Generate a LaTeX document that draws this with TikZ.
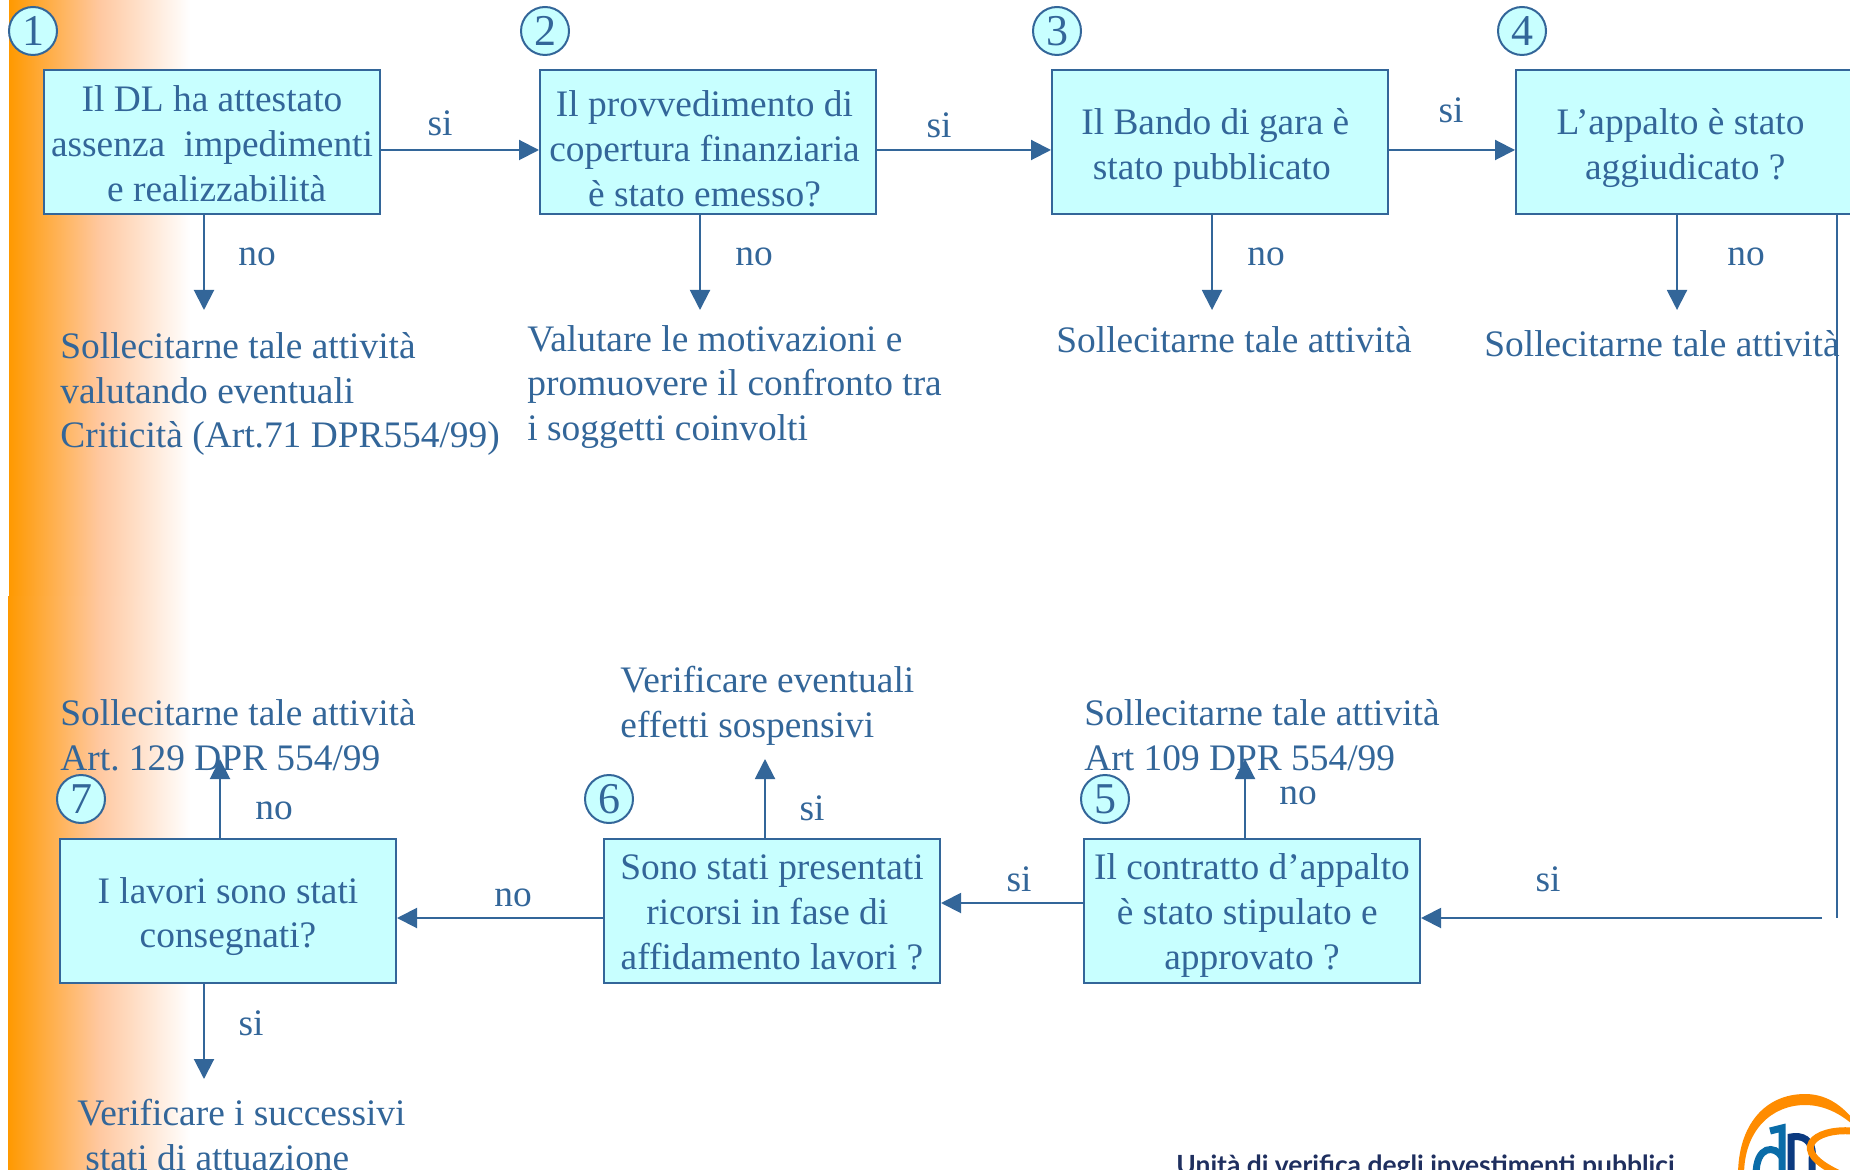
\documentclass[tikz,border=0pt]{standalone}
\usepackage{fontspec}
\setmainfont{Liberation Serif}
\newfontfamily\logofont{Lato}
\usetikzlibrary{arrows.meta}
\frenchspacing
\definecolor{inkblue}{HTML}{336699}
\definecolor{boxcyan}{HTML}{C8FFFF}
\definecolor{panelorange}{HTML}{FF9900}
\definecolor{panelpeach}{HTML}{FFC8A0}
\definecolor{logoorange}{HTML}{FF8C00}
\definecolor{logolight}{HTML}{0A6CA8}
\definecolor{logonavy}{HTML}{0B3A80}
\definecolor{footernavy}{HTML}{1F2F5F}
\newcommand{\topgap}[1]{\rule{0pt}{\dimexpr 12.7pt+#1\relax}}
\newcommand{\rightpad}[1]{\hspace*{#1}\mbox{}}
\tikzset{
    questionbox/.style={draw=inkblue,fill=boxcyan,line width=1pt,minimum width=168pt,minimum height=72pt,inner sep=0pt,align=center,text=inkblue},
    numbermark/.style={draw=inkblue,fill=boxcyan,line width=1pt,circle,minimum size=24pt,inner sep=0pt,text=inkblue,font=\fontsize{22}{24}\selectfont},
    actiontext/.style={anchor=west,align=left,inner sep=0pt,text=inkblue},
    answer/.style={inner sep=0pt,text=inkblue},
    flow/.style={draw=inkblue,line width=1pt}
}
\begin{document}
\begin{tikzpicture}[>={Triangle[length=10pt,width=10pt]},x=0.5pt,y=-0.5pt,font=\fontsize{18.7}{22.4}\selectfont]
                        \clip[use as bounding box] (0,0) rectangle (1850,1170);
                        \shade[left color=panelorange,right color=white,middle color=panelpeach] (9,0) rectangle (190,596);
                        \shade[left color=panelorange,right color=white,middle color=panelpeach] (8,596) rectangle (190,1170);
                        % upper row
                        \node[questionbox] (box1) at (212,142) {\topgap{1.8pt}Il DL ha attestato\\assenza\ \ impedimenti\\\hspace*{4.7pt}e realizzabilità};
                        \node[questionbox] (box2) at (708,142) {\topgap{7pt}Il provvedimento di\rightpad{3.5pt}\\copertura finanziaria\rightpad{3.5pt}\\è stato emesso?\rightpad{3.5pt}};
                        \node[questionbox] (box3) at (1220,142) {\topgap{6pt}Il Bando di gara è\rightpad{4.7pt}\\stato pubblicato\rightpad{8.2pt}};
                        \node[questionbox] (box4) at (1684,142) {\topgap{6pt}L’appalto è stato\rightpad{3.5pt}\\\hspace*{1.2pt}aggiudicato ?};
                        % lower row
                        \node[questionbox] (box5) at (1252,911) {\topgap{4.7pt}Il contratto d’appalto\\è stato stipulato e\rightpad{4.7pt}\\approvato ?};
                        \node[questionbox] (box6) at (772,911) {\topgap{1pt}Sono stati presentati\\ricorsi in fase di\rightpad{4.7pt}\\affidamento lavori ?};
                        \node[questionbox] (box7) at (228,911) {\topgap{5.9pt}I lavori sono stati\\consegnati?};
                        \node[numbermark] (mark1) at (33,31) {1};
                        \node[numbermark] (mark2) at (545,31) {2};
                        \node[numbermark] (mark3) at (1057,31) {3};
                        \node[numbermark] (mark4) at (1522,31) {4};
                        \node[numbermark] (mark5) at (1105,799) {5};
                        \node[numbermark] (mark6) at (609,799) {6};
                        \node[numbermark] (mark7) at (81,799) {7};
                        \node[actiontext] (action1) at (60,394) {Sollecitarne tale attività\\valutando eventuali\\Criticità (Art.71 DPR554/99)};
                        \node[actiontext] (action2) at (527,387) {Valutare le motivazioni e\\promuovere il confronto tra\\i soggetti coinvolti};
                        \node[actiontext] (action3) at (1056,340) {Sollecitarne tale attività};
                        \node[actiontext] (action4) at (1484,344) {Sollecitarne tale attività};
                        \node[actiontext] (action5) at (1084,735) {Sollecitarne tale attività\\Art 109 DPR 554/99};
                        \node[actiontext] (action6) at (620,706) {Verificare eventuali\\effetti sospensivi};
                        \node[actiontext] (action7) at (60,735) {Sollecitarne tale attività\\Art. 129 DPR 554/99};
                        \node[actiontext] (action8) at (77,1135) {Verificare i successivi\\\hspace*{4pt}stati di attuazione};
                        % free ends
                        \coordinate (end1) at (204,310);
                        \coordinate (end2) at (700,310);
                        \coordinate (end3) at (1212,310);
                        \coordinate (end4) at (1677,310);
                        \coordinate (end5) at (1245,759);
                        \coordinate (end6) at (765,759);
                        \coordinate (end7) at (220,759);
                        \coordinate (end8) at (204,1079);
                        \coordinate (turnA) at (1837,918);
                        \coordinate (turnB) at (1822,918);
                        \draw[flow,->] (box1.east |- 0,150) -- (box2.west |- 0,150);
                        \draw[flow,->] (box2.east |- 0,150) -- (box3.west |- 0,150);
                        \draw[flow,->] (box3.east |- 0,150) -- (box4.west |- 0,150);
                        \draw[flow,->] (box1.south -| end1) -- (end1);
                        \draw[flow,->] (box2.south -| end2) -- (end2);
                        \draw[flow,->] (box3.south -| end3) -- (end3);
                        \draw[flow,->] (box4.south -| end4) -- (end4);
                        \draw[flow] (box4.south -| turnA) -- (turnA);
                        \draw[flow,->] (turnB) -- (box5.east |- turnB);
                        \draw[flow,->] (box5.west |- 0,903) -- (box6.east |- 0,903);
                        \draw[flow,->] (box6.west |- 0,918) -- (box7.east |- 0,918);
                        \draw[flow,->] (box5.north -| end5) -- (end5);
                        \draw[flow,->] (box6.north -| end6) -- (end6);
                        \draw[flow,->] (box7.north -| end7) -- (end7);
                        \draw[flow,->] (box7.south -| end8) -- (end8);
                        % answers
                        \node[answer] (si1) at (440,123) {si};
                        \node[answer] (si2) at (939,125) {si};
                        \node[answer] (si3) at (1451,110) {si};
                        \node[answer] (no1) at (257,257) {no};
                        \node[answer] (no2) at (754,257) {no};
                        \node[answer] (no3) at (1266,257) {no};
                        \node[answer] (no4) at (1746,257) {no};
                        \node[answer] (si4) at (1548,879) {si};
                        \node[answer] (no5) at (1298,796) {no};
                        \node[answer] (si5) at (1019,879) {si};
                        \node[answer] (si6) at (812,808) {si};
                        \node[answer] (no6) at (513,898) {no};
                        \node[answer] (no7) at (274,811) {no};
                        \node[answer] (si7) at (251,1023) {si};
                        % footer and logo
                        \node[inner sep=0pt,anchor=base west,text=footernavy,font=\logofont\bfseries\fontsize{13.2}{16}\selectfont] (footer) at (1176,1174) {Unità di verifica degli investimenti pubblici};
                        \fill[logoorange] (1738,1175) .. controls (1738,1125) and (1765,1094) .. (1805,1094) .. controls (1825,1094) and (1840,1104) .. (1852,1118) -- (1852,1124) .. controls (1838,1112) and (1822,1105) .. (1805,1105) .. controls (1772,1105) and (1744,1130) .. (1744,1175) -- cycle;
                        \draw[logolight,line width=3.5pt] (1782,1175) -- (1782,1128) -- (1770,1131);
                        \draw[logolight,line width=3.5pt] (1756,1175) .. controls (1756,1145) and (1775,1145) .. (1782,1157);
                        \draw[logonavy,line width=3.5pt] (1791,1175) -- (1791,1137) .. controls (1800,1135) and (1815,1138) .. (1812,1160) -- (1812,1175);
                        \draw[logoorange,line width=3.5pt] (1852,1131) .. controls (1815,1128) and (1785,1150) .. (1842,1175);
                    \end{tikzpicture}
\end{document}
